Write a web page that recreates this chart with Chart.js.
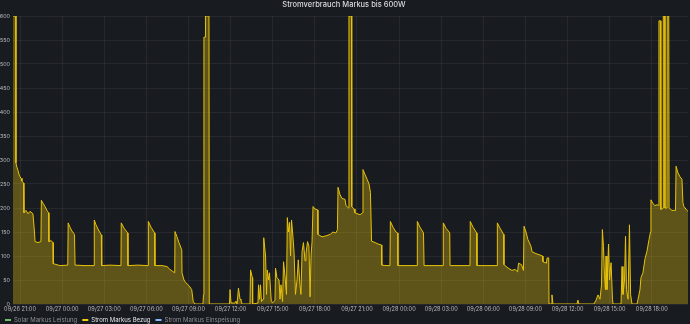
<!DOCTYPE html>
<html>
<head>
<meta charset="utf-8">
<script src="https://cdn.jsdelivr.net/npm/chart.js@4.4.0/dist/chart.umd.min.js"></script>
<style>
  html, body { margin: 0; padding: 0; background: #181b1f; }
  canvas { display: block; }
</style>
</head>
<body>
<canvas id="chart" width="690" height="324"></canvas>
<script>
// x = Stunden seit 09/26 00:00
const tickHours = [21, 24, 27, 30, 33, 36, 39, 42, 45, 48, 51, 54, 57, 60, 63, 66];
const tickLabels = ['09/26 21:00', '09/27 00:00', '09/27 03:00', '09/27 06:00', '09/27 09:00',
  '09/27 12:00', '09/27 15:00', '09/27 18:00', '09/27 21:00', '09/28 00:00', '09/28 03:00',
  '09/28 06:00', '09/28 09:00', '09/28 12:00', '09/28 15:00', '09/28 18:00'];

const seriesNames = ['Solar Markus Leistung', 'Strom Markus Bezug', 'Strom Markus Einspeisung'];
const seriesColors = ['#73bf69', '#f2cc0c', '#8ab8ff'];

// Strom Markus Bezug (W)
const bezugHours = [
  20.50, 20.70, 20.71, 20.78, 20.86, 20.93, 21.00, 21.07, 21.14, 21.25, 21.28, 21.43, 21.57, 21.71,
  21.85, 21.92, 21.96, 22.03, 22.07, 22.28, 22.49, 22.52, 22.64, 22.78, 22.92, 23.03, 23.06, 23.21,
  23.35, 23.37, 23.85, 24.40, 24.43, 24.56, 24.70, 24.88, 24.92, 25.63, 26.27, 26.29, 26.41, 26.63,
  26.79, 26.82, 27.41, 28.19, 28.21, 28.41, 28.67, 28.69, 29.40, 30.12, 30.14, 30.33, 30.59, 30.61,
  31.11, 31.47, 31.68, 32.02, 32.04, 32.18, 32.32, 32.52, 32.54, 32.68, 32.82, 33.04, 33.23, 33.34,
  33.46, 34.03, 34.07, 34.10, 34.20, 34.21, 34.46, 34.48,
  35.92, 35.96, 36.03, 36.31, 36.38, 36.46, 36.56, 36.67, 36.74, 36.81, 37.38, 37.42, 37.55, 37.57,
  37.95, 37.99, 38.06, 38.13, 38.20, 38.31, 38.36, 38.49, 38.56, 38.61, 38.70, 38.77, 38.90, 39.02,
  39.16, 39.20, 39.30, 39.45, 39.52, 39.59, 39.70, 39.77, 39.87, 39.98, 40.04, 40.12, 40.20, 40.27,
  40.34, 40.44, 40.52, 40.62, 40.73, 40.82, 40.94, 41.01, 41.09, 41.19, 41.30, 41.37, 41.48, 41.58,
  41.66, 41.73, 41.80, 41.87, 42.01, 42.20, 42.22, 42.51, 42.80, 43.09, 43.29, 43.50, 43.61, 43.65,
  43.79, 43.93, 44.15, 44.22, 44.40, 44.43, 44.61, 44.63, 44.79, 44.86, 45.22, 45.41, 45.43, 45.57,
  45.72, 45.86, 45.96, 46.04, 46.29, 46.50, 46.75, 46.77, 47.07, 47.35, 47.38, 47.57, 47.78, 47.90,
  47.92, 49.28, 49.30, 49.49, 49.74, 49.78, 51.13, 51.15, 51.34, 51.61, 51.63, 53.05, 53.07, 53.27,
  53.53, 53.55, 54.98, 55.00, 55.19, 55.45, 55.47, 55.76, 56.04, 56.26, 56.44, 56.51, 56.72, 56.86,
  56.90, 57.04, 57.18, 57.40, 57.47, 57.75, 58.04, 58.22, 58.25, 58.50, 58.54, 58.66, 58.68, 58.86,
  58.89, 58.96, 60.67, 60.74, 60.81, 61.88, 62.03, 62.17, 62.31, 62.42, 62.48, 62.56, 62.63, 62.70,
  62.74, 62.81, 62.92, 62.99, 63.10, 63.20, 63.24, 63.81, 63.88, 63.95, 64.06, 64.13, 64.20, 64.31,
  64.41, 64.49, 64.59, 64.95, 65.02, 65.16, 65.23, 65.37, 65.52, 65.66, 65.80, 65.91, 65.94, 66.09,
  66.23, 66.37, 66.48, 66.51, 66.62, 66.65, 66.80, 66.82, 66.93, 66.94, 67.08, 67.10, 67.21, 67.23,
  67.44, 67.69, 67.73, 67.87, 68.01, 68.15, 68.22, 68.29, 68.51, 68.58
];
const bezugWatts = [
  600, 600, 294, 285, 278, 270, 265, 262, 256, 252, 190, 195, 188, 193,
  190, 188, 175, 150, 130, 128, 130, 216, 210, 203, 195, 190, 130, 132,
  128, 84, 80, 81, 169, 160, 152, 145, 81, 80, 80, 175, 165, 152,
  144, 80, 81, 80, 169, 158, 148, 80, 81, 80, 172, 160, 148, 80,
  80, 78, 72, 65, 151, 140, 128, 113, 65, 50, 44, 38, 30, 5,
  0, 0, 19, 556, 556, 600, 600, 0,
  0, 30, 2, 2, 6, 0, 33, 10, 8, 0, 0, 71, 55, 0,
  2, 40, 10, 40, 5, 10, 138, 100, 20, 71, 50, 65, 5, 3,
  8, 75, 55, 50, 10, 40, 5, 88, 60, 20, 180, 150, 170, 100,
  175, 140, 107, 20, 50, 92, 40, 20, 110, 128, 90, 105, 130, 120,
  15, 100, 130, 203, 198, 196, 145, 140, 142, 145, 150, 148, 155, 243,
  228, 220, 218, 205, 200, 600, 600, 203, 198, 190, 186, 190, 280, 270,
  260, 250, 232, 131, 128, 125, 123, 81, 80, 80, 172, 160, 150, 148,
  80, 80, 172, 160, 148, 80, 80, 169, 158, 148, 80, 80, 172, 160,
  148, 80, 80, 169, 158, 145, 82, 75, 70, 72, 67, 85, 82, 70,
  162, 150, 134, 120, 109, 105, 102, 100, 88, 85, 96, 96, 0, 0,
  19, 0, 0, 8, 0, 0, 8, 19, 10, 40, 155, 120, 60, 30,
  100, 30, 125, 50, 86, 10, 0, 0, 78, 20, 50, 141, 30, 10,
  165, 20, 0, 0, 10, 30, 55, 65, 95, 110, 134, 150, 217, 209,
  205, 207, 205, 590, 590, 197, 200, 600, 600, 200, 200, 600, 600, 200,
  195, 195, 287, 273, 265, 260, 211, 203, 195, 193
];

const solarWatts = [];
const einspeisungWatts = [];

const bezugPoints = bezugHours.map((h, i) => ({ x: h, y: bezugWatts[i] }));

const tickColor = '#b9bac2';
const gridColor = 'rgba(204, 204, 220, 0.08)';

new Chart(document.getElementById('chart'), {
  type: 'line',
  data: {
    datasets: [
      {
        label: seriesNames[0],
        data: solarWatts,
        borderColor: seriesColors[0],
        backgroundColor: seriesColors[0],
        pointRadius: 0
      },
      {
        label: seriesNames[1],
        data: bezugPoints,
        borderColor: '#e8c20a',
        backgroundColor: 'rgba(242, 204, 12, 0.32)',
        borderWidth: 1,
        pointRadius: 0,
        tension: 0,
        fill: 'origin'
      },
      {
        label: seriesNames[2],
        data: einspeisungWatts,
        borderColor: seriesColors[2],
        backgroundColor: seriesColors[2],
        pointRadius: 0
      }
    ]
  },
  options: {
    responsive: false,
    animation: false,
    layout: { padding: { left: 0, right: 2, top: 0, bottom: 0 } },
    plugins: {
      title: {
        display: true,
        text: 'Stromverbrauch Markus bis 600W',
        color: '#d8d9e0',
        font: { family: 'Inter', size: 7.5, weight: '500' },
        padding: { top: 0, bottom: 7 }
      },
      legend: {
        position: 'bottom',
        align: 'start',
        maxHeight: 12,
        labels: {
          boxWidth: 6,
          boxHeight: 2,
          padding: 5,
          font: { family: 'Inter', size: 6 },
          generateLabels(chart) {
            return chart.data.datasets.map((ds, i) => ({
              text: ds.label,
              fillStyle: seriesColors[i],
              strokeStyle: seriesColors[i],
              lineWidth: 0,
              fontColor: i === 1 ? '#e4e5ea' : '#8e8f98',
              hidden: false,
              datasetIndex: i
            }));
          }
        }
      },
      tooltip: { enabled: false }
    },
    scales: {
      x: {
        type: 'linear',
        min: 20.5,
        max: 68.58,
        afterBuildTicks(scale) {
          scale.ticks = tickHours.map(v => ({ value: v }));
        },
        afterFit(scale) { scale.height = 8; },
        ticks: {
          color: tickColor,
          font: { family: 'Inter', size: 5.6 },
          padding: 2,
          maxRotation: 0,
          autoSkip: false,
          callback(value) {
            const i = tickHours.indexOf(value);
            return i >= 0 ? tickLabels[i] : '';
          }
        },
        grid: { color: gridColor, drawTicks: false },
        border: { display: false }
      },
      y: {
        min: 0,
        max: 600,
        afterFit(scale) { scale.width = 13; },
        ticks: {
          stepSize: 50,
          color: tickColor,
          font: { family: 'Inter', size: 5.4 },
          padding: 3
        },
        grid: { color: gridColor, drawTicks: false },
        border: { display: false }
      }
    }
  }
});
</script>
</body>
</html>
